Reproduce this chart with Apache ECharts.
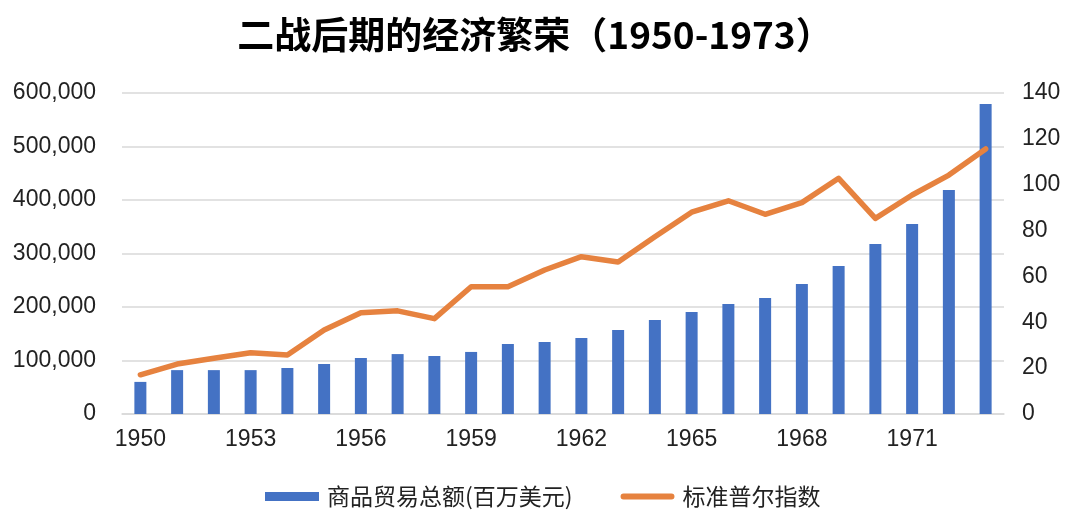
<!DOCTYPE html>
<html>
<head>
<meta charset="utf-8">
<title>二战后期的经济繁荣（1950-1973）</title>
<script src="https://cdn.jsdelivr.net/npm/echarts@6/dist/echarts.min.js"></script>
<style>
  html, body { margin: 0; padding: 0; background: #fff; }
  #main { width: 1070px; height: 510px; }
</style>
</head>
<body>
<div id="main"></div>
<script>
// 年份
const years = ['1950', '1951', '1952', '1953', '1954', '1955', '1956', '1957',
  '1958', '1959', '1960', '1961', '1962', '1963', '1964', '1965',
  '1966', '1967', '1968', '1969', '1970', '1971', '1972', '1973'];

// 商品贸易总额(百万美元)
const tradeTotal = [60000, 82000, 82000, 82000, 86000, 93500, 104700, 112000,
  108400, 116000, 130800, 134600, 142000, 157000, 175700, 190700,
  205600, 216800, 243000, 276600, 317800, 355000, 418700, 579400];

// 标准普尔指数
const spIndex = [17.1, 21.8, 24.3, 26.7, 25.7, 36.6, 44.2, 45.0,
  41.6, 55.5, 55.5, 62.8, 68.6, 66.3, 77.3, 88.0,
  93.0, 87.1, 92.2, 102.8, 85.3, 95.5, 104.2, 115.6];

const labelFont = 'Liberation Sans, Noto Sans CJK SC, sans-serif';
const cjkFont = 'Noto Sans CJK SC, sans-serif';

// 图例里的橙色粗线（上下留白，让它比蓝色方块细一些）
const lineIcon = 'path://M0,0h0.01v0.01h-0.01z M0,9h0.01v0.01h-0.01z ' +
  'M3,1.5 H51 A3,3 0 0 1 51,7.5 H3 A3,3 0 0 1 3,1.5 Z';

const myChart = echarts.init(document.getElementById('main'));

myChart.setOption({
  animation: false,
  title: {
    text: '二战后期的经济繁荣（1950-1973）',
    left: 'center',
    top: 11,
    textStyle: {
      color: '#000',
      fontSize: 37,
      fontWeight: 'bold',
      fontFamily: cjkFont
    }
  },
  grid: {
    top: 93,
    left: 122,
    right: 66,
    bottom: 96
  },
  legend: {
    left: 260,
    top: 480,
    itemGap: 48,
    itemWidth: 54,
    itemHeight: 9,
    textStyle: {
      color: '#222',
      fontSize: 23,
      fontFamily: cjkFont,
      padding: [0, 0, 0, 3]
    },
    data: [
      { name: '商品贸易总额(百万美元)', icon: 'rect' },
      { name: '标准普尔指数', icon: lineIcon }
    ]
  },
  xAxis: {
    type: 'category',
    data: years,
    boundaryGap: true,
    axisLine: { lineStyle: { color: '#d9d9d9', width: 1.5 } },
    axisTick: {
      interval: 2,
      length: 6,
      lineStyle: { color: '#d9d9d9', width: 1.5 }
    },
    axisLabel: {
      interval: 2,
      margin: 14,
      color: '#222',
      fontSize: 23,
      fontFamily: labelFont
    }
  },
  yAxis: [
    {
      type: 'value',
      min: 0,
      max: 600000,
      interval: 100000,
      axisLine: { show: false },
      axisTick: { show: false },
      splitLine: { lineStyle: { color: '#d9d9d9', width: 1.5 } },
      axisLabel: {
        margin: 26,
        color: '#222',
        fontSize: 23,
        fontFamily: labelFont,
        formatter(v) {
          return v.toLocaleString('en-US');
        }
      }
    },
    {
      type: 'value',
      min: 0,
      max: 140,
      interval: 20,
      axisLine: { show: false },
      axisTick: { show: false },
      splitLine: { show: false },
      axisLabel: {
        margin: 18,
        color: '#222',
        fontSize: 23,
        fontFamily: labelFont
      }
    }
  ],
  series: [
    {
      name: '商品贸易总额(百万美元)',
      type: 'bar',
      yAxisIndex: 0,
      barWidth: 12,
      itemStyle: { color: '#4472C4' },
      data: tradeTotal
    },
    {
      name: '标准普尔指数',
      type: 'line',
      yAxisIndex: 1,
      symbol: 'none',
      lineStyle: { color: '#E6823F', width: 5.5, cap: 'round', join: 'round' },
      itemStyle: { color: '#E6823F' },
      data: spIndex
    }
  ]
});
</script>
</body>
</html>
